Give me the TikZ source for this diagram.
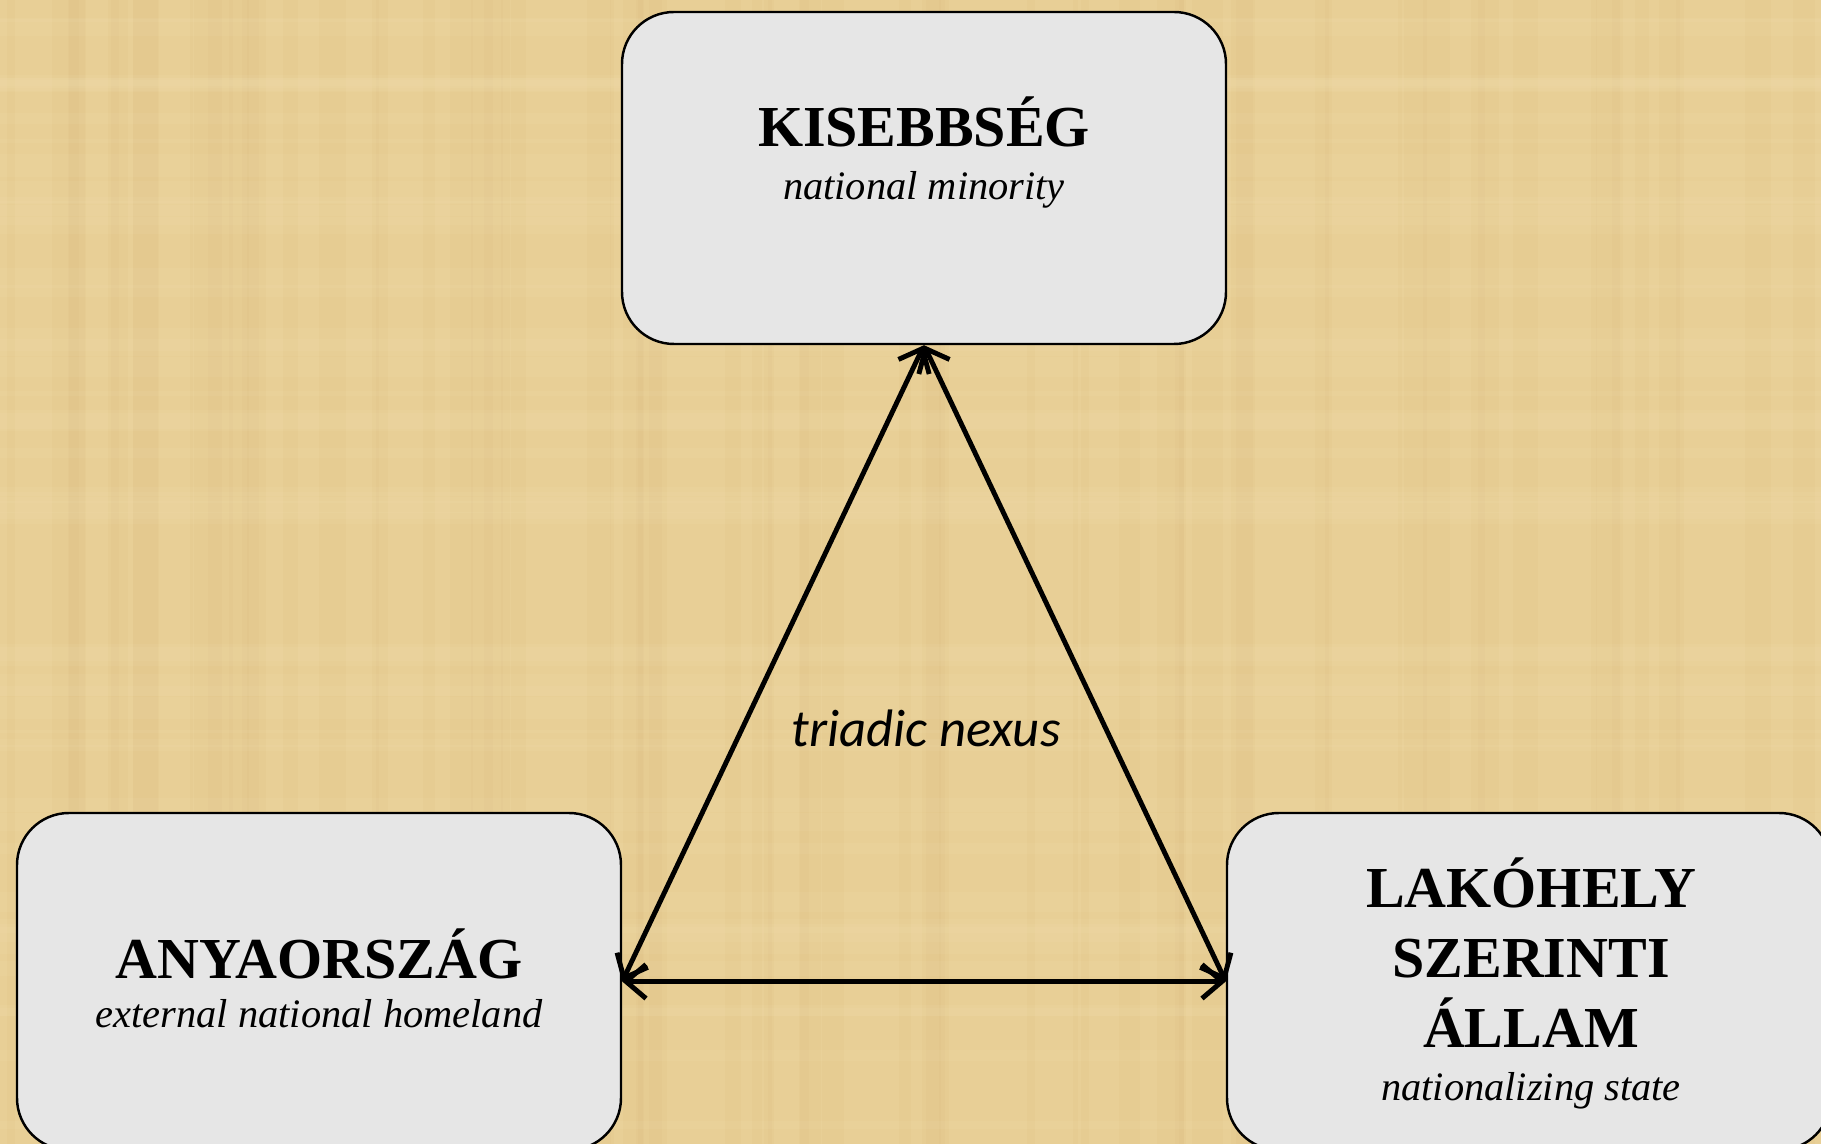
\documentclass[tikz,border=0pt]{standalone}
\usepackage{fontspec}
\setmainfont{Liberation Serif}
\newfontfamily\nexusfont{Carlito}
\usetikzlibrary{positioning,arrows.meta}
\definecolor{papyrus}{RGB}{232,207,150}
\definecolor{papyrusdark}{RGB}{205,172,106}
\definecolor{papyruslight}{RGB}{244,228,184}
\definecolor{boxgrey}{RGB}{230,230,230}

\begin{document}
\begin{tikzpicture}[
    box/.style={draw=black, line width=0.7pt, fill=boxgrey, rounded corners=5.2mm, minimum width=6.04cm},
    title/.style={font=\fontsize{16.5}{20}\selectfont\bfseries, anchor=base, align=center},
    subtitle/.style={font=\fontsize{11.5}{14}\selectfont\itshape, anchor=base},
    link/.style={line width=1.4pt, {Straight Barb[length=2mm,width=3.4mm]}-{Straight Barb[length=2mm,width=3.4mm]}}
]
    \useasboundingbox (0,0) rectangle (18.21,-11.44);
    \clip (0,0) rectangle (18.21,-11.44);
    \fill[papyrus] (0,0) rectangle (18.21,-11.44);
    % woven texture
    \pgfmathsetseed{7}
    \foreach \i in {1,...,70} {
        \pgfmathsetmacro\x{rnd*18.21}
        \pgfmathsetmacro\w{0.03+rnd*0.25}
        \fill[papyrusdark, opacity=0.07] (\x,0) rectangle ++(\w,-11.44);
    }
    \foreach \i in {1,...,50} {
        \pgfmathsetmacro\y{-rnd*11.44}
        \pgfmathsetmacro\w{0.03+rnd*0.2}
        \fill[papyruslight, opacity=0.1] (0,\y) rectangle ++(18.21,\w);
    }

    \node[box, minimum height=3.32cm] (kis) at (9.24,-1.78) {};
    \node[box, minimum height=3.37cm] (anya) at (3.19,-9.815) {};
    \node[box, minimum height=3.37cm] (lako) at (15.29,-9.815) {};

    \node[title] (kistitle) at (9.24,-1.47) {KISEBBSÉG};
    \node[subtitle] (kissub) at (9.24,-2.00) {national minority};
    \node[title] (anyatitle) at (3.19,-9.78) {ANYAORSZÁG};
    \node[subtitle] (anyasub) at (3.19,-10.28) {external national homeland};
    \node[title] (lakotitle) at (15.31,-10.48) {LAKÓHELY\\SZERINTI\\ÁLLAM};
    \node[subtitle] (lakosub) at (15.31,-11.00) {nationalizing state};

    \node[font=\nexusfont\itshape\fontsize{15}{18}\selectfont] (nexus) at (9.26,-7.28) {triadic nexus};

    \draw[link] (anya.east) -- (lako.west);
    \draw[link] (anya.east) -- (kis.south);
    \draw[link] (kis.south) -- (lako.west);
\end{tikzpicture}
\end{document}
